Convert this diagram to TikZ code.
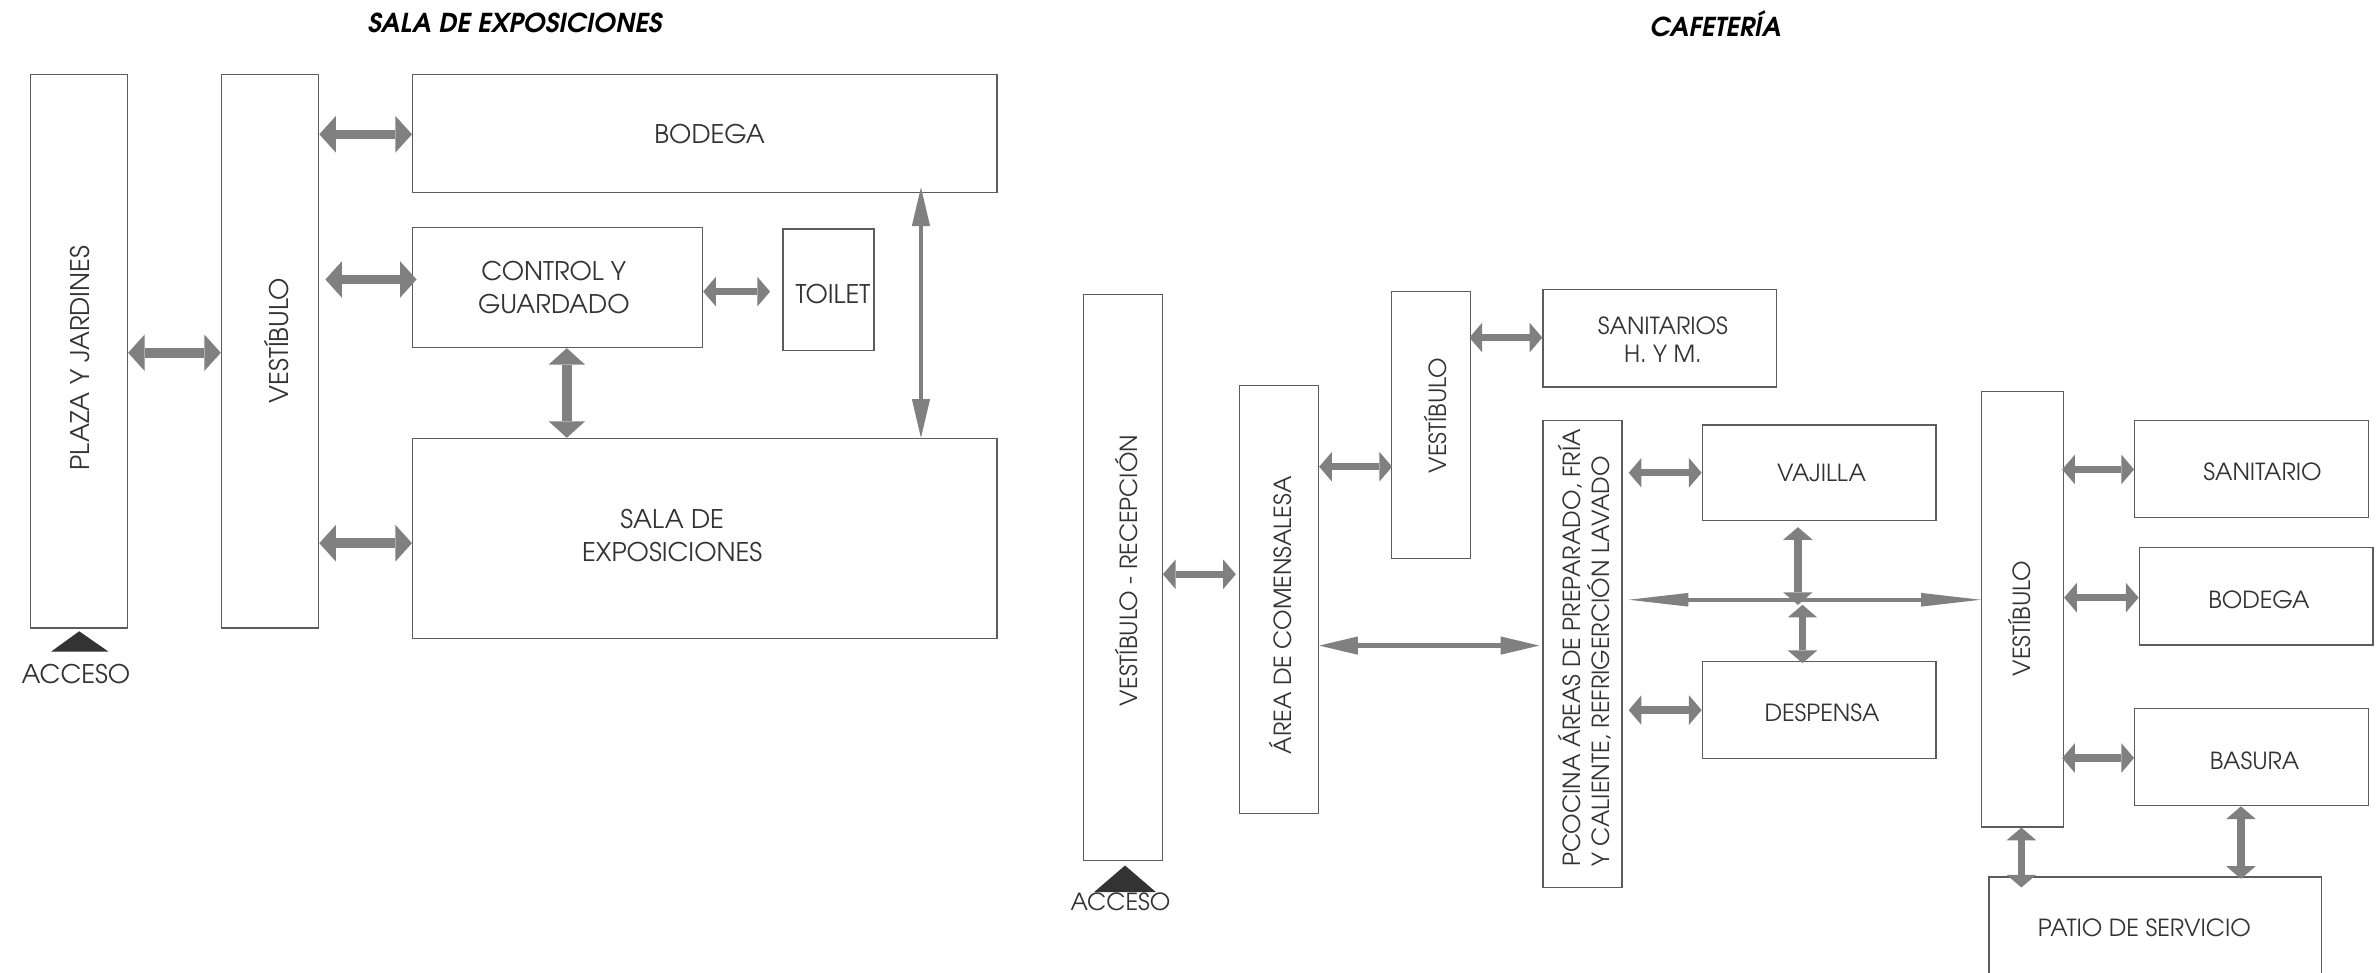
\documentclass[tikz,border=0pt]{standalone}
\usepackage{fontspec}
\setmainfont{texgyreadventor}[Extension=.otf, UprightFont=*-regular, BoldFont=*-bold, ItalicFont=*-italic, BoldItalicFont=*-bolditalic]
\usetikzlibrary{arrows.meta,fit,calc}
\definecolor{boxc}{HTML}{5C5C5C}
\definecolor{arrc}{HTML}{808080}
\definecolor{txtc}{HTML}{333333}
\definecolor{accc}{HTML}{333333}
\begin{document}
\begin{tikzpicture}[x=0.015172cm,y=-0.015172cm,
  box/.style={draw=boxc, line width=0.4pt, inner sep=0pt},
  lt/.style={text=txtc, font=\fontsize{7.3}{9.3}\selectfont, align=center, inner sep=0pt},
  rt/.style={text=txtc, font=\fontsize{6.7}{8.2}\selectfont, align=center, inner sep=0pt},
  ttl/.style={font=\fontsize{7.4}{9}\selectfont\bfseries\itshape, inner sep=0pt},
  bigarr/.style={draw=arrc, line width=2.7pt, {Triangle[length=4.7pt,width=10.4pt,line width=0pt]}-{Triangle[length=4.7pt,width=10.4pt,line width=0pt]}},
  midarr/.style={draw=arrc, line width=2.1pt, {Triangle[length=3.6pt,width=8.4pt,line width=0pt]}-{Triangle[length=3.6pt,width=8.4pt,line width=0pt]}},
  thinarr/.style={draw=arrc, line width=1.3pt, {Triangle[length=11pt,width=5.2pt,line width=0pt]}-{Triangle[length=11pt,width=5.2pt,line width=0pt]}},
  longarr/.style={draw=arrc, line width=1.2pt, {Triangle[length=17pt,width=3.9pt,line width=0pt]}-{Triangle[length=17pt,width=3.9pt,line width=0pt]}},
  acc/.style={fill=accc}
]
\useasboundingbox (0,0) rectangle (1568,641);
\clip (0,0) rectangle (1568,641);

% titles
\node[ttl] (t1) at (339.5,15.4) {SALA DE EXPOSICIONES};
\node[ttl] (t2) at (1130.8,15.4) {CAFETERÍA};

% ---------- left: sala de exposiciones ----------
\node[box, fit={(20,49) (84,414)}] (plaza) {};
\node[box, fit={(146,49) (210,414)}] (vestA) {};
\node[box, fit={(272,49) (657,127)}] (bodA) {};
\node[box, fit={(272,150) (463,229)}] (control) {};
\node[box, fit={(516,151) (576,231)}] (toilet) {};
\node[box, fit={(272,289) (657,421)}] (salaA) {};

\node[lt, rotate=90] (tplaza) at (52.9,236) {PLAZA Y JARDINES};
\node[lt, rotate=90] (tvestA) at (182,224.5) {VESTÍBULO};
\node[lt] (tbodA) at (467.7,88.5) {BODEGA};
\node[lt] (tcontrol) at (365,189.4) {CONTROL Y\\GUARDADO};
\node[lt] (ttoilet) at (549,194) {TOILET};
\node[lt] (tsala) at (443,353) {SALA DE\\EXPOSICIONES};
\node[lt] (taccA) at (50,444.5) {ACCESO};
\fill[acc] ($(plaza.south)+(0.2,1.6)$) -- ++(19.3,13.4) -- ++(-37.8,0) -- cycle;

\draw[bigarr] (plaza.east |- 0,232.5) -- (vestA.west |- 0,232.5);
\draw[bigarr] (vestA.east |- 0,88.5) -- (bodA.west |- 0,88.5);
\draw[bigarr] ($(vestA.east |- 0,184.2)+(4,0)$) -- ($(control.west |- 0,184.2)+(3,0)$);
\draw[midarr] (control.east |- 0,192.2) -- ($(toilet.west |- 0,192.2)+(-8,0)$);
\draw[bigarr] (control.south -| 373.6,0) -- (salaA.north -| 373.6,0);
\draw[thinarr] ($(bodA.south -| 607,0)+(0,-4)$) -- (salaA.north -| 607,0);
\draw[bigarr] (vestA.east |- 0,358) -- (salaA.west |- 0,358);

% ---------- right: cafeteria ----------
\node[box, fit={(714,194) (766,567)}] (vr) {};
\node[box, fit={(817,254) (869,536)}] (area) {};
\node[box, fit={(917,192) (969,368)}] (vestB) {};
\node[box, fit={(1017,191) (1171,255)}] (sanHM) {};
\node[box, fit={(1017,277) (1069,585)}] (cocina) {};
\node[box, fit={(1122,280) (1276,343)}] (vajilla) {};
\node[box, fit={(1122,436) (1276,500)}] (despensa) {};
\node[box, fit={(1306,258) (1360,545)}] (vestC) {};
\node[box, fit={(1407,277) (1561,341)}] (sanit) {};
\node[box, fit={(1410,361) (1564,425)}] (bodB) {};
\node[box, fit={(1407,467) (1561,531)}] (basura) {};
\node[box, fit={(1311,578) (1530,670)}] (patio) {};

\node[rt, rotate=90] (tvr) at (742.6,376) {VESTÍBULO - RECEPCIÓN};
\node[rt, rotate=90] (tarea) at (844,405.5) {ÁREA DE COMENSALESA};
\node[rt, rotate=90] (tvestB) at (946,274) {VESTÍBULO};
\node[rt] (tsanHM) at (1096,223.8) {SANITARIOS\\H. Y M.};
\node[rt, rotate=90, align=left] (tcocina) at (1044.3,427) {PCOCINA ÁREAS DE PREPARADO, FRÍA\\Y CALIENTE, REFRIGERCIÓN LAVADO};
\node[rt] (tvajilla) at (1200.6,312) {VAJILLA};
\node[rt] (tdespensa) at (1200.9,469.7) {DESPENSA};
\node[rt, rotate=90] (tvestC) at (1331.2,407.8) {VESTÍBULO};
\node[rt] (tsanit) at (1491.2,311) {SANITARIO};
\node[rt] (tbodB) at (1488.8,395) {BODEGA};
\node[rt] (tbasura) at (1486,501.2) {BASURA};
\node[rt] (tpatio) at (1413.3,611.5) {PATIO DE SERVICIO};
\fill[acc] ($(vr.south)+(1.5,3)$) -- ++(20.5,17.6) -- ++(-41,0) -- cycle;
\node[rt] (taccB) at (738.5,594.3) {ACCESO};

\coordinate (jn) at (1186.5,395.3);
\coordinate (j1) at (1185,398.7);
\coordinate (j2) at (1188,398.6);

\draw[midarr] (vr.east |- 0,378.5) -- ($(area.west |- 0,378.5)+(-2,0)$);
\draw[midarr] (area.east |- 0,307.6) -- ($(vestB.west |- 0,307.6)+(1,0)$);
\draw[midarr] ($(vestB.east |- 0,222.5)+(-1,0)$) -- (sanHM.west |- 0,222.5);
\draw[thinarr] (area.east |- 0,425.5) -- ($(cocina.west |- 0,425.5)+(-2,0)$);
\draw[midarr] ($(cocina.east |- 0,311.6)+(4,0)$) -- (vajilla.west |- 0,311.6);
\draw[midarr] ($(cocina.east |- 0,468)+(4,0)$) -- (despensa.west |- 0,468);
\draw[longarr] ($(cocina.east |- jn)+(4,0)$) -- (vestC.west |- jn);
\draw[midarr] ($(vajilla.south -| j1)+(0,4)$) -- (j1);
\draw[midarr] (j2) -- ($(despensa.north -| j2)+(0,1.5)$);
\draw[midarr] ($(vestC.east |- 0,309.4)+(-1.3,0)$) -- (sanit.west |- 0,309.4);
\draw[midarr] (vestC.east |- 0,393.9) -- (bodB.west |- 0,393.9);
\draw[midarr] ($(vestC.east |- 0,499.6)+(-1.3,0)$) -- (basura.west |- 0,499.6);
\draw[midarr] (vestC.south -| 1332.3,0) -- ($(patio.north -| 1332.3,0)+(0,7.4)$);
\draw[midarr] (basura.south -| 1477,0) -- ($(patio.north -| 1477,0)+(0,1.7)$);
\end{tikzpicture}
\end{document}
